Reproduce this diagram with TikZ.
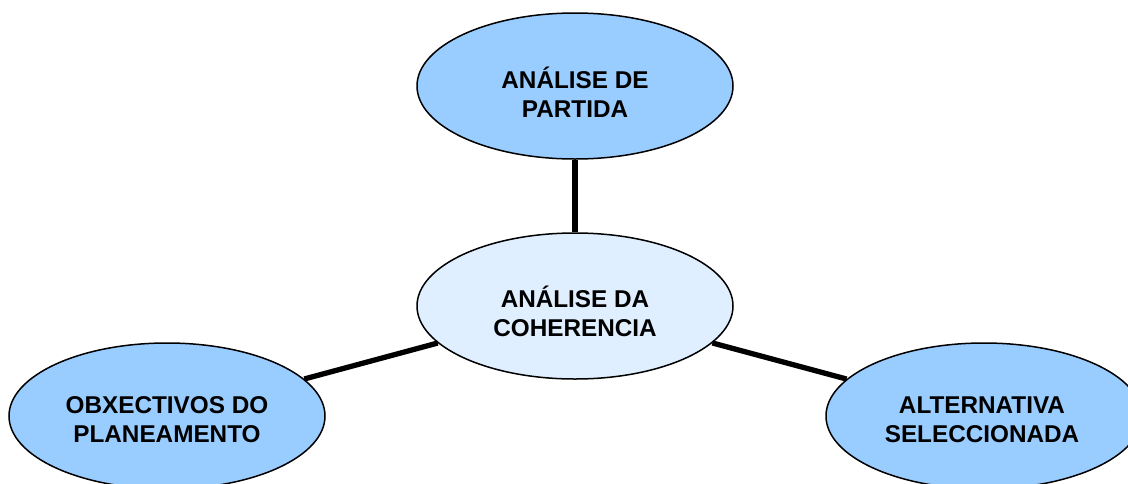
\documentclass[tikz,border=0pt]{standalone}
\usepackage{fontspec}
\setmainfont{Liberation Sans}
\usetikzlibrary{shapes.geometric}
\definecolor{outerblue}{HTML}{99CCFF}
\definecolor{innerblue}{HTML}{DFEFFF}
\begin{document}
\begin{tikzpicture}[x=1pt,y=-1pt,
  bubble/.style={ellipse, draw=black, line width=1.5pt, fill=outerblue,
    minimum width=316pt, minimum height=146pt, inner sep=0pt},
  hub/.style={bubble, fill=innerblue},
  caption/.style={align=center, inner sep=0pt,
    font=\fontsize{24.3}{29}\selectfont\bfseries},
  link/.style={line width=5.3pt}]
\clip (0,0) rectangle (1128,483);
\node[bubble] (top) at (575,86) {};
\node[hub] (mid) at (575,306) {};
\node[bubble] (left) at (167,416) {};
\node[bubble] (right) at (984,416) {};
\node[caption] (topt) at (575,92) {ANÁLISE DE\\PARTIDA};
\node[caption] (midt) at (575,311) {ANÁLISE DA\\COHERENCIA};
\node[caption] (leftt) at (167,420) {OBXECTIVOS DO\\PLANEAMENTO};
\node[caption] (rightt) at (982,420) {ALTERNATIVA\\SELECCIONADA};
\draw[link] (top) -- (mid);
\draw[link] (mid) -- (left);
\draw[link] (mid) -- (right);
\end{tikzpicture}
\end{document}
